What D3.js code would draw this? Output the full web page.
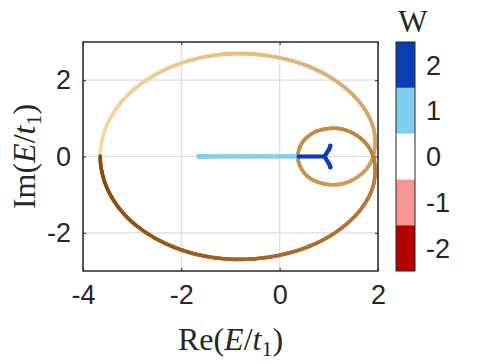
<!DOCTYPE html>
<html>
<head>
<meta charset="utf-8">
<script src="https://cdn.jsdelivr.net/npm/d3@7/dist/d3.min.js"></script>
<style>
  body { margin: 0; background: #fff; }
  text { fill: #262626; }
</style>
</head>
<body>
<div id="chart"></div>
<script>
// spectrum under periodic boundary (closed loop)
var loopRe = [-3.65, -3.52, -3.15, -2.56, -1.82, -1.01, -0.19, 0.57, 1.19, 1.64, 1.89, 1.94,
              1.83, 1.58, 1.26, 0.92, 0.63, 0.44, 0.37, 0.44, 0.63, 0.92, 1.26, 1.58,
              1.83, 1.94, 1.89, 1.64, 1.19, 0.57, -0.19, -1.01, -1.82, -2.56, -3.15, -3.52];
var loopIm = [0, 0.80, 1.53, 2.12, 2.52, 2.69, 2.63, 2.37, 1.94, 1.40, 0.82, 0.26,
              -0.21, -0.54, -0.72, -0.72, -0.58, -0.32, 0, 0.32, 0.58, 0.72, 0.72, 0.54,
              0.21, -0.26, -0.82, -1.40, -1.94, -2.37, -2.63, -2.69, -2.52, -2.12, -1.53, -0.80];

// open boundary eigenvalues, W = 1
var w1Re = [-1.65, -1.63, -1.61, -1.59, -1.56, -1.53, -1.49, -1.45, -1.40, -1.34, -1.28, -1.21,
            -1.14, -1.07, -1.00, -0.93, -0.86, -0.79, -0.72, -0.65, -0.58, -0.51, -0.44, -0.37,
            -0.30, -0.23, -0.16, -0.09, -0.02, 0.05, 0.12, 0.19, 0.26, 0.33];
// open boundary eigenvalues, W = 2
var w2Re = [0.39, 0.45, 0.51, 0.57, 0.63, 0.69, 0.75, 0.81, 0.87, 0.91,
            0.94, 0.97, 1.00, 1.02, 1.03, 0.94, 0.97, 1.00, 1.02, 1.03];
var w2Im = [0, 0, 0, 0, 0, 0, 0, 0, 0, 0,
            0.06, 0.12, 0.18, 0.23, 0.28, -0.06, -0.12, -0.18, -0.23, -0.28];

var xTicks = [-4, -2, 0, 2];
var yTicks = [-2, 0, 2];
var wLevels = [-2, -1, 0, 1, 2];
var wColors = ["#b50000", "#f89696", "#ffffff", "#7dcfeb", "#0a3cb4"];
var loopColors = ["#f7dca7", "#c8914c", "#8a4808"];

var svgWidth = 478;
var svgHeight = 364;
var margin = { top: 42, left: 83 };
var chartWidth = 295;
var chartHeight = 229;

var svg = d3.select("#chart")
  .append("svg")
  .attr("width", svgWidth)
  .attr("height", svgHeight);

var chartGroup = svg.append("g")
  .attr("transform", `translate(${margin.left}, ${margin.top})`);

var xScale = d3.scaleLinear().domain([-4, 2]).range([0, chartWidth]);
var yScale = d3.scaleLinear().domain([-3, 3]).range([chartHeight, 0]);

// grid
chartGroup.selectAll(".gx").data(xTicks).enter().append("line")
  .attr("x1", d => xScale(d)).attr("x2", d => xScale(d))
  .attr("y1", 0).attr("y2", chartHeight)
  .attr("stroke", "#dcdcdc").attr("stroke-width", 1.2);
chartGroup.selectAll(".gy").data(yTicks).enter().append("line")
  .attr("x1", 0).attr("x2", chartWidth)
  .attr("y1", d => yScale(d)).attr("y2", d => yScale(d))
  .attr("stroke", "#dcdcdc").attr("stroke-width", 1.2);

// loop, colored along its length
var line = d3.line()
  .x((d, i) => xScale(loopRe[i]))
  .y((d, i) => yScale(loopIm[i]))
  .curve(d3.curveCatmullRomClosed.alpha(0.5));

var hidden = chartGroup.append("path")
  .attr("d", line(loopRe))
  .attr("fill", "none")
  .attr("stroke", "none");

var node = hidden.node();
var L = node.getTotalLength();
var N = 720;
var samples = d3.range(N).map(i => node.getPointAtLength(L * i / N));
var i0 = d3.minIndex(samples, p => p.x);
var dir = samples[(i0 + 4) % N].y < samples[i0].y ? 1 : -1;
var colorScale = d3.scaleLinear().domain([0, 0.5, 1]).range(loopColors);

var segs = d3.range(N).map(function(k) {
  var a = samples[(i0 + dir * k + 2 * N) % N];
  var b = samples[(i0 + dir * (k + 1) + 2 * N) % N];
  return { a: a, b: b, t: k / N };
});

chartGroup.selectAll(".seg").data(segs).enter().append("line")
  .attr("x1", d => d.a.x).attr("y1", d => d.a.y)
  .attr("x2", d => d.b.x).attr("y2", d => d.b.y)
  .attr("stroke", d => colorScale(d.t))
  .attr("stroke-width", 3.6)
  .attr("stroke-linecap", "round");

// OBC eigenvalues
chartGroup.selectAll(".w1").data(w1Re).enter().append("circle")
  .attr("cx", d => xScale(d))
  .attr("cy", yScale(0))
  .attr("r", 2.4)
  .attr("fill", wColors[3]);

chartGroup.selectAll(".w2").data(w2Re).enter().append("circle")
  .attr("cx", d => xScale(d))
  .attr("cy", (d, i) => yScale(w2Im[i]))
  .attr("r", 2.3)
  .attr("fill", wColors[4]);

// box and ticks
chartGroup.append("rect")
  .attr("width", chartWidth).attr("height", chartHeight)
  .attr("fill", "none").attr("stroke", "#262626").attr("stroke-width", 1.5);

var fmt = d => String(d);
var bottomAxis = d3.axisBottom(xScale).tickValues(xTicks).tickSizeInner(-3).tickSizeOuter(0).tickPadding(14).tickFormat(fmt);
var leftAxis = d3.axisLeft(yScale).tickValues(yTicks).tickSizeInner(-3).tickSizeOuter(0).tickPadding(12).tickFormat(fmt);
var topAxis = d3.axisTop(xScale).tickValues(xTicks).tickSizeInner(-3).tickSizeOuter(0).tickFormat("");
var rightAxis = d3.axisRight(yScale).tickValues(yTicks).tickSizeInner(-3).tickSizeOuter(0).tickFormat("");

function styleAxis(g) {
  g.select(".domain").remove();
  g.selectAll("line").attr("stroke", "#262626").attr("stroke-width", 1);
  g.selectAll("text")
    .style("font-family", "'Liberation Sans', Arial, sans-serif")
    .style("font-size", "27px")
    .attr("fill", "#262626");
}

chartGroup.append("g").attr("transform", `translate(0, ${chartHeight})`).call(bottomAxis).call(styleAxis);
chartGroup.append("g").call(leftAxis).call(styleAxis);
chartGroup.append("g").call(topAxis).call(styleAxis);
chartGroup.append("g").attr("transform", `translate(${chartWidth}, 0)`).call(rightAxis).call(styleAxis);

// axis labels
var serif = "'Liberation Serif', 'Times New Roman', serif";
function mathLabel(t, prefix) {
  t.style("font-family", serif).style("font-size", "32px").attr("fill", "#262626");
  t.append("tspan").text(prefix + "(");
  t.append("tspan").attr("font-style", "italic").text("E");
  t.append("tspan").text("/");
  t.append("tspan").attr("font-style", "italic").text("t");
  t.append("tspan").attr("font-size", "22px").attr("dy", 6).text("1");
  t.append("tspan").attr("dy", -6).text(")");
}

svg.append("text")
  .attr("x", margin.left + chartWidth / 2)
  .attr("y", 350)
  .style("text-anchor", "middle")
  .call(mathLabel, "Re");

svg.append("text")
  .attr("transform", `translate(35, ${margin.top + chartHeight / 2}) rotate(-90)`)
  .style("text-anchor", "middle")
  .call(mathLabel, "Im");

// colorbar
var cbX = 396, cbW = 19;
var cScale = d3.scaleLinear().domain([-2.5, 2.5]).range([margin.top + chartHeight, margin.top]);

svg.selectAll(".cb").data(wLevels).enter().append("rect")
  .attr("x", cbX)
  .attr("y", d => cScale(d + 0.5))
  .attr("width", cbW)
  .attr("height", d => cScale(d - 0.5) - cScale(d + 0.5))
  .attr("fill", (d, i) => wColors[i]);

svg.append("rect")
  .attr("x", cbX).attr("y", margin.top)
  .attr("width", cbW).attr("height", chartHeight)
  .attr("fill", "none").attr("stroke", "#262626").attr("stroke-width", 1);

svg.selectAll(".cbl").data(wLevels).enter().append("text")
  .attr("x", 426)
  .attr("y", d => cScale(d))
  .attr("dy", "0.36em")
  .style("font-family", "'Liberation Sans', Arial, sans-serif")
  .style("font-size", "27px")
  .text(d => String(d));

svg.append("text")
  .attr("x", 413)
  .attr("y", 32)
  .style("text-anchor", "middle")
  .style("font-family", serif)
  .style("font-size", "31px")
  .text("W");
</script>
</body>
</html>
